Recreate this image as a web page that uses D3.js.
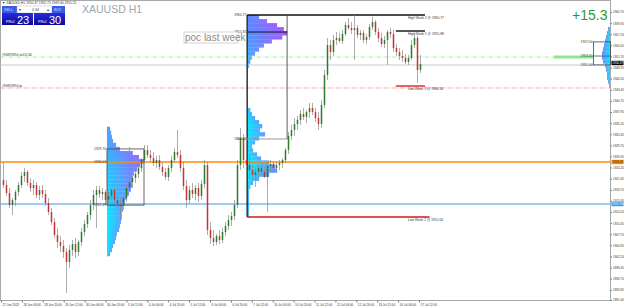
<!DOCTYPE html>
<html>
<head>
<style>
body{margin:0;background:#fff;}
svg{display:block;font-family:"Liberation Sans",Arial,sans-serif;}
.tick text{font-size:3px;fill:#333;}
.lbl{font-size:3.3px;fill:#333;}
</style>
</head>
<body>
<svg width="625" height="308"></svg>
<script src="https://cdn.jsdelivr.net/npm/d3@7/dist/d3.min.js"></script>
<script>
var priceTicks = [1962.70,1959.95,1957.20,1954.45,1951.70,1948.95,1946.20,1943.45,1940.70,1937.95,1935.20,1932.45,1929.70,1926.95,1924.20,1921.45,1918.70,1915.95,1913.20,1910.45,1907.70,1904.95,1902.20,1899.45,1896.70,1893.95,1891.40];
var timeLabels = ["27 Jun 2023","28 Jun 04:00","28 Jun 20:00","29 Jun 12:00","30 Jun 04:00","30 Jun 20:00","3 Jul 12:00","4 Jul 04:00","4 Jul 20:00","5 Jul 12:00","6 Jul 04:00","6 Jul 20:00","7 Jul 12:00","10 Jul 04:00","10 Jul 20:00","11 Jul 12:00","12 Jul 04:00","12 Jul 20:00","13 Jul 12:00","14 Jul 04:00","17 Jul 12:00"];

// open, high, low, close
var candles = [
[1921.11,1925.57,1919.13,1919.87],[1919.87,1921.11,1917.15,1917.89],[1917.89,1919.13,1914.18,1914.92],[1914.92,1916.65,1912.44,1916.16],
[1916.16,1918.63,1914.67,1918.14],[1918.14,1920.61,1917.15,1919.87],[1919.87,1923.09,1919.13,1922.10],[1922.10,1924.08,1920.61,1923.09],
[1923.09,1923.59,1919.62,1920.37],[1920.37,1921.61,1918.14,1919.13],[1919.13,1921.11,1917.40,1919.87],[1919.87,1920.61,1916.65,1917.40],
[1917.40,1919.62,1916.16,1918.63],[1918.63,1919.87,1916.65,1917.64],[1917.64,1918.63,1914.67,1915.42],[1915.42,1916.65,1912.44,1913.19],
[1913.19,1914.18,1909.97,1910.71],[1910.71,1911.70,1906.75,1907.49],[1907.49,1909.23,1904.27,1905.76],[1905.76,1907.24,1903.28,1904.77],
[1904.77,1906.25,1901.80,1903.28],[1903.28,1904.27,1893.13,1900.81],[1900.81,1905.02,1899.32,1903.78],[1903.78,1906.25,1902.29,1905.26],
[1905.26,1906.75,1901.80,1903.28],[1903.28,1906.25,1902.29,1905.76],[1905.76,1909.23,1904.77,1908.24],[1908.24,1911.21,1907.24,1910.22],
[1910.22,1913.19,1909.23,1912.44],[1912.44,1916.16,1911.21,1914.92],[1914.92,1918.63,1913.68,1917.40],[1917.40,1919.62,1909.23,1918.63],
[1918.63,1919.62,1916.65,1917.64],[1917.64,1919.13,1916.16,1918.14],[1918.14,1918.63,1914.92,1916.16],[1916.16,1918.14,1914.67,1917.15],
[1917.15,1919.13,1916.16,1918.63],[1918.63,1919.38,1915.42,1916.16],[1916.16,1917.64,1914.18,1915.17],[1915.17,1916.65,1911.70,1914.67],
[1914.67,1917.15,1913.68,1916.65],[1916.65,1919.87,1915.66,1919.13],[1919.13,1929.28,1918.14,1920.61],[1920.61,1922.10,1919.13,1921.61],
[1921.61,1923.59,1920.37,1922.60],[1922.60,1924.58,1921.61,1924.08],[1924.08,1926.56,1923.09,1926.06],[1926.06,1929.78,1925.32,1928.54],
[1928.54,1929.78,1926.56,1927.30],[1927.30,1928.54,1925.57,1926.56],[1926.56,1928.04,1924.58,1925.32],[1925.32,1927.05,1924.08,1926.06],
[1926.06,1927.30,1923.59,1924.33],[1924.33,1925.57,1922.10,1923.09],[1923.09,1924.08,1921.11,1921.85],[1921.85,1924.82,1920.86,1924.08],
[1924.08,1927.05,1923.09,1926.06],[1926.06,1929.03,1925.32,1928.04],[1928.04,1933.49,1926.56,1927.30],[1927.30,1928.54,1923.09,1924.08],
[1924.08,1925.57,1918.63,1919.62],[1919.62,1921.11,1914.18,1916.16],[1916.16,1919.62,1915.17,1918.63],[1918.63,1920.37,1916.65,1917.64],
[1917.64,1919.87,1916.16,1919.13],[1919.13,1920.37,1915.66,1917.15],[1917.15,1921.11,1916.16,1920.12],[1920.12,1926.06,1919.13,1924.82],
[1924.82,1925.57,1907.49,1908.73],[1908.73,1910.71,1905.26,1906.75],[1906.75,1908.73,1904.77,1905.76],[1905.76,1907.74,1905.02,1907.24],
[1907.24,1908.73,1905.26,1906.25],[1906.25,1909.23,1905.51,1908.24],[1908.24,1910.71,1907.24,1909.72],[1909.72,1912.44,1908.73,1911.21],
[1911.21,1913.19,1909.72,1912.20],[1912.20,1916.16,1911.21,1914.92],[1914.92,1926.06,1914.18,1924.82],[1924.82,1933.98,1923.59,1931.51],
[1931.51,1932.50,1924.08,1926.06],[1926.06,1928.54,1923.09,1924.82],[1924.82,1927.30,1921.61,1923.59],[1923.59,1924.82,1921.11,1922.35],
[1922.35,1924.08,1919.38,1923.09],[1923.09,1924.82,1921.61,1924.08],[1924.08,1925.07,1922.10,1923.09],[1923.09,1924.58,1921.61,1921.85],
[1921.85,1925.57,1913.19,1924.58],[1924.58,1926.06,1923.09,1925.07],[1925.07,1925.81,1923.09,1924.08],[1924.08,1925.57,1923.34,1924.82],
[1924.82,1926.06,1923.59,1925.32],[1925.32,1926.56,1924.08,1926.06],[1926.06,1929.03,1925.32,1928.54],[1928.54,1932.99,1927.55,1932.00],
[1932.00,1934.73,1931.01,1933.49],[1933.49,1936.46,1932.00,1934.97],[1934.97,1936.96,1933.49,1935.97],[1935.97,1938.44,1934.73,1937.45],
[1937.45,1938.94,1935.97,1936.71],[1936.71,1938.44,1935.22,1937.95],[1937.95,1940.17,1936.46,1938.94],[1938.94,1940.17,1937.20,1937.95],
[1937.95,1938.94,1935.47,1936.46],[1936.46,1937.95,1933.49,1934.97],[1934.97,1940.92,1933.98,1939.68],[1939.68,1948.35,1938.94,1947.11],
[1947.11,1956.27,1945.87,1954.53],[1954.53,1955.77,1950.82,1952.80],[1952.80,1957.01,1951.81,1955.77],[1955.77,1957.75,1954.53,1956.27],
[1956.27,1957.51,1955.03,1955.53],[1955.53,1958.25,1954.78,1957.26],[1957.26,1960.23,1956.76,1959.49],[1959.49,1961.22,1958.25,1958.74],
[1958.74,1960.23,1957.26,1958.25],[1958.25,1961.96,1950.82,1958.74],[1958.74,1959.49,1956.27,1957.01],[1957.01,1958.25,1955.77,1957.51],
[1957.51,1958.25,1955.03,1955.77],[1955.77,1957.26,1954.78,1956.52],[1956.52,1959.73,1955.77,1958.99],[1958.99,1961.47,1958.25,1960.23],
[1960.23,1960.72,1957.01,1957.75],[1957.75,1958.74,1955.28,1956.27],[1956.27,1957.51,1954.04,1954.78],[1954.78,1956.76,1953.79,1955.77],
[1955.77,1958.25,1949.58,1957.75],[1957.75,1958.74,1956.27,1957.26],[1957.26,1958.25,1952.80,1953.79],[1953.79,1954.78,1951.81,1952.80],
[1952.80,1953.79,1950.82,1951.81],[1951.81,1953.30,1950.33,1951.32],[1951.32,1952.31,1949.83,1950.33],[1950.33,1952.06,1949.58,1951.32],
[1951.32,1955.77,1950.82,1954.53],[1954.53,1957.51,1953.79,1956.27],[1956.27,1956.76,1945.13,1948.35],[1948.35,1952.06,1947.60,1949.83]
];

// volume profiles, one value per 1.0 price bin, from the top bin down
var profileLastWeek = [30,50,75,92,100,88,62,42,30,20,12,8,5,2,2,2,2,2,2,2,2,2,2,8,12,20,30,38,32,45,30,20,12,15,25,35,55,70,75,55,30,15,8,5,5,5,5,5,5,5];
var profileOlder = [8,11,13,16,24,34,68,84,100,87,79,71,68,66,66,63,58,53,47,42,42,39,39,37,34,32,26,24,21,16,13,8];
var profileNow = [20,30,40,50,60,70,80,80,70,50,40,30,30,20,10];

var highWeek2 = 1961.96, highWeek1 = 1958.0, lowWeek1 = 1944.38, lowWeek2 = 1911.95;
var pocLastWeek = 1957.75, vaLowLastWeek = 1931.26;
var orangeLevel = 1925.57, blueLevel = 1915.17;
var sellLevel = 1951.56, bidLevel = 1949.58, tpLevel = 1943.89;
var olderTop = 1934.3, olderBoxTop = 1928.8, olderBoxBottom = 1914.9;
var nowTop = 1959.0, nowBoxTop = 1955.3, nowPoc = 1951.8, nowBoxBottom = 1949.6;
var weekStart = {w3jul: 35, w10jul: 81.7, w17jul: 131.3};

var svg = d3.select("svg"),
    plotL = 0.5, plotR = 610.5, plotT = 0.5, plotB = 300.5;

var y = d3.scaleLinear().domain([1891.4, 1963.2]).range([300, 10]);
var xi = d3.scaleLinear().domain([0, candles.length]).range([2, 422]);
var xt = d3.scalePoint().domain(timeLabels).range([1, 419]);

var defs = svg.append("defs");
var g = svg.append("g");

// frame
g.append("rect").attr("x", plotL).attr("y", plotT).attr("width", plotR - plotL).attr("height", plotB - plotT)
  .attr("fill", "none").attr("stroke", "#a8a8a8").attr("stroke-width", 1);

// profiles
var gid = 0;
function profile(data, topPrice, anchorX, maxW, dir, tAt) {
  var vs = d3.scaleLinear().domain([0, 100]).range([0, maxW]);
  var pg = g.append("g");
  data.forEach(function(v, i) {
    var p0 = topPrice - i, p1 = topPrice - i - 1;
    var t = tAt(p0);
    var id = "pg" + (gid++);
    var lg = defs.append("linearGradient").attr("id", id)
      .attr("x1", dir > 0 ? "0" : "1").attr("x2", dir > 0 ? "1" : "0").attr("y1", 0).attr("y2", 0);
    lg.append("stop").attr("offset", 0).attr("stop-color", d3.interpolateRgb("#00eeff", "#5f84ff")(t));
    lg.append("stop").attr("offset", 1).attr("stop-color", d3.interpolateRgb("#55aaff", "#a45cff")(Math.min(1, v / 100 * (0.4 + t))));
    var w = vs(v);
    pg.append("rect")
      .attr("x", dir > 0 ? anchorX : anchorX - w)
      .attr("y", y(p0)).attr("width", w).attr("height", y(p1) - y(p0) + 0.3)
      .attr("fill", "url(#" + id + ")");
  });
}
profile(profileLastWeek, highWeek2, xi(weekStart.w10jul), 40, 1, function(p){ return Math.max(0, (p - 1935) / 27); });
profile(profileOlder, olderTop, xi(weekStart.w3jul), 38, 1, function(p){ return Math.max(0, (p - 1912) / 30); });
profile(profileNow, nowTop, plotR - 0.5, 10, -1, function(p){ return 0.1; });

// horizontal level lines
function hline(p, x1, x2, color, w, dash) {
  g.append("line").attr("x1", x1).attr("x2", x2).attr("y1", y(p)).attr("y2", y(p))
    .attr("stroke", color).attr("stroke-width", w).attr("stroke-dasharray", dash || null);
}
hline(bidLevel, plotL, plotR, "#c5ccd4", 1);
hline(sellLevel, plotL, plotR - 57, "#8fe08f", 0.8, "4,1.5,1,1.5");
hline(tpLevel, plotL, plotR, "#f08a8a", 0.8, "4,1.5,1,1.5");
hline(orangeLevel, plotL, plotR, "#ff8c00", 1.4);
hline(blueLevel, plotL, plotR, "#3c96f0", 1.2);
g.append("rect").attr("x", plotR - 57).attr("y", y(sellLevel) - 1.5).attr("width", 40).attr("height", 3).attr("fill", "#8fe88f");

// profile boxes
var p1x = xi(weekStart.w10jul);
hline(highWeek2, p1x, xi(141), "#111", 1.4);
g.append("line").attr("x1", p1x).attr("x2", p1x).attr("y1", y(highWeek2)).attr("y2", y(lowWeek2)).attr("stroke", "#111").attr("stroke-width", 1.2);
g.append("line").attr("x1", p1x + 40).attr("x2", p1x + 40).attr("y1", y(highWeek2)).attr("y2", y(vaLowLastWeek)).attr("stroke", "#333").attr("stroke-width", 0.8);
hline(pocLastWeek, p1x, p1x + 40, "#111", 1);
hline(vaLowLastWeek, p1x - 10, p1x + 41, "#999", 1);
hline(lowWeek2, p1x, xi(142.5), "#d01818", 1.3);

var p2x = xi(weekStart.w3jul);
g.append("rect").attr("x", p2x).attr("y", y(olderBoxTop)).attr("width", 37).attr("height", y(olderBoxBottom) - y(olderBoxTop))
  .attr("fill", "none").attr("stroke", "#444").attr("stroke-width", 0.8);

var p3x = plotR - 17;
g.append("rect").attr("x", p3x).attr("y", y(nowBoxTop)).attr("width", 17).attr("height", y(nowBoxBottom) - y(nowBoxTop))
  .attr("fill", "none").attr("stroke", "#444").attr("stroke-width", 0.8);
hline(nowPoc, p3x, plotR, "#2a6060", 0.8);

hline(highWeek1, xi(weekStart.w17jul), xi(141), "#111", 1.4);
hline(lowWeek1, xi(weekStart.w17jul), xi(141), "#e02020", 1.4);

// candles
var cg = g.append("g");
var bw = (xi(1) - xi(0)) * 0.5;
candles.forEach(function(d, i) {
  var cx = (xi(i) + xi(i + 1)) / 2;
  var up = d[3] >= d[0];
  cg.append("line").attr("x1", cx).attr("x2", cx).attr("y1", y(d[1])).attr("y2", y(d[2]))
    .attr("stroke", "#8a8a8a").attr("stroke-width", 0.7);
  cg.append("rect").attr("x", cx - bw / 2).attr("width", bw)
    .attr("y", y(Math.max(d[0], d[3]))).attr("height", Math.max(0.6, Math.abs(y(d[0]) - y(d[3]))))
    .attr("fill", up ? "#2e7a2e" : "#c83232");
});

// axes
var ya = g.append("g").attr("transform", "translate(" + plotR + ",0)")
  .call(d3.axisRight(y).tickValues(priceTicks).tickSize(1.5).tickPadding(1).tickFormat(d3.format(".2f")));
ya.select(".domain").remove();
ya.selectAll(".tick line").attr("stroke", "#777");
var xa = g.append("g").attr("transform", "translate(0," + plotB + ")")
  .call(d3.axisBottom(xt).tickSize(2).tickPadding(1));
xa.select(".domain").remove();
xa.selectAll(".tick line").attr("stroke", "#777");
xa.selectAll(".tick text").attr("text-anchor", "start").attr("dx", 1);

// axis price tags
function tag(p, bg, fg, txt) {
  var t = g.append("g").attr("transform", "translate(" + (plotR + 1) + "," + y(p) + ")");
  t.append("rect").attr("x", 0).attr("y", -2.2).attr("width", 12).attr("height", 4.4).attr("fill", bg);
  t.append("text").attr("x", 0.8).attr("y", 1.1).attr("font-size", 3).attr("fill", fg).text(txt);
}
tag(orangeLevel, "#ff8c00", "#222", "1926.03");
tag(blueLevel, "#3c96f0", "#fff", "1915.39");
tag(bidLevel + 0.5, "#000", "#fff", "1950.37");

// small texts
function lbl(x, yy, txt, anchor, color) {
  g.append("text").attr("class", "lbl").attr("x", x).attr("y", yy).attr("text-anchor", anchor || "start")
    .attr("fill", color || "#333").text(txt);
}
lbl(2, 4, "\u25BC XAUUSD,H1  1950.37 1952.75 1949.40 1951.25");
lbl(2, y(sellLevel) - 1, "#90870950 sell 0.34");
lbl(2, y(tpLevel) - 0.5, "#90870950 tp");
lbl(p1x - 1, y(highWeek2) + 1.2, "1960.77", "end");
lbl(p1x - 1, y(pocLastWeek) + 1.2, "1955.92", "end");
lbl(p1x - 1, y(vaLowLastWeek) + 1.2, "1932.25", "end");
lbl(p2x - 1, y(olderBoxTop) + 1.2, "1929.70", "end");
lbl(p2x - 1, y(orangeLevel) + 1.2, "1926.03", "end");
lbl(p2x - 1, y(olderBoxBottom) + 1.2, "1915.39", "end");
lbl(p3x - 1, y(nowBoxTop) + 1.2, "1957.00", "end");
lbl(p3x - 1, y(nowPoc) + 1.2, "1953.40", "end", "#3a9a3a");
lbl(p3x - 1, y(nowBoxBottom) + 1.2, "1951.00", "end");
var tx = xi(135.3);
lbl(tx, y(highWeek2) + 3.5, "High Week 2 @ 1960.77");
lbl(tx, y(highWeek1) + 3.5, "High Week 1 @ 1955.88");
lbl(tx, y(lowWeek1) + 4, "Low Week 1 @ 1946.50", "start", "#d02020");
lbl(tx, y(lowWeek2) + 4, "Low Week 2 @ 1912.00", "start", "#d02020");

// title and badges
g.append("text").attr("x", 82).attr("y", 13).attr("font-size", 10.5).attr("fill", "#9aa6b2").text("XAUUSD H1");
g.append("text").attr("x", 572).attr("y", 19.5).attr("font-size", 14).attr("fill", "#2e9a2e").text("+15.3");
var pb = g.append("g").attr("transform", "translate(184,32)");
pb.append("rect").attr("width", 54).attr("height", 11).attr("fill", "#fff").attr("stroke", "#c8c8c8").attr("stroke-width", 0.8);
pb.append("text").attr("x", 1).attr("y", 8.8).attr("font-size", 10).attr("fill", "#8c8c8c").text("poc last week");

// trade panel
var grad = defs.append("linearGradient").attr("id", "btn").attr("x1", 0).attr("x2", 0).attr("y1", 0).attr("y2", 1);
grad.append("stop").attr("offset", 0).attr("stop-color", "#2a2ae0");
grad.append("stop").attr("offset", 1).attr("stop-color", "#0a0a98");
var tp = g.append("g").attr("transform", "translate(2,6)");
tp.append("rect").attr("width", 15).attr("height", 7).attr("fill", "#3a5ae8");
tp.append("text").attr("x", 2).attr("y", 5).attr("font-size", 3.6).attr("fill", "#cfe0ff").text("SELL");
tp.append("rect").attr("x", 15).attr("width", 35).attr("height", 7).attr("fill", "#fff").attr("stroke", "#bbb").attr("stroke-width", 0.5);
tp.append("text").attr("x", 17).attr("y", 5).attr("font-size", 3.6).attr("fill", "#333").text("\u25BE");
tp.append("text").attr("x", 30).attr("y", 5).attr("font-size", 3.6).attr("fill", "#333").text("0.34");
tp.append("text").attr("x", 45).attr("y", 5).attr("font-size", 3.6).attr("fill", "#333").text("\u25B4");
tp.append("rect").attr("x", 50).attr("width", 13).attr("height", 7).attr("fill", "#3a5ae8");
tp.append("text").attr("x", 52).attr("y", 5).attr("font-size", 3.6).attr("fill", "#cfe0ff").text("BUY");
[["23", 0], ["30", 32]].forEach(function(b) {
  tp.append("rect").attr("x", b[1]).attr("y", 7).attr("width", 31).attr("height", 12).attr("fill", "url(#btn)");
  tp.append("text").attr("x", b[1] + 4).attr("y", 17).attr("font-size", 3.6).attr("fill", "#fff").text("PRs1");
  tp.append("text").attr("x", b[1] + 15).attr("y", 17.5).attr("font-size", 11).attr("fill", "#fff").text(b[0]);
});
</script>
</body>
</html>
